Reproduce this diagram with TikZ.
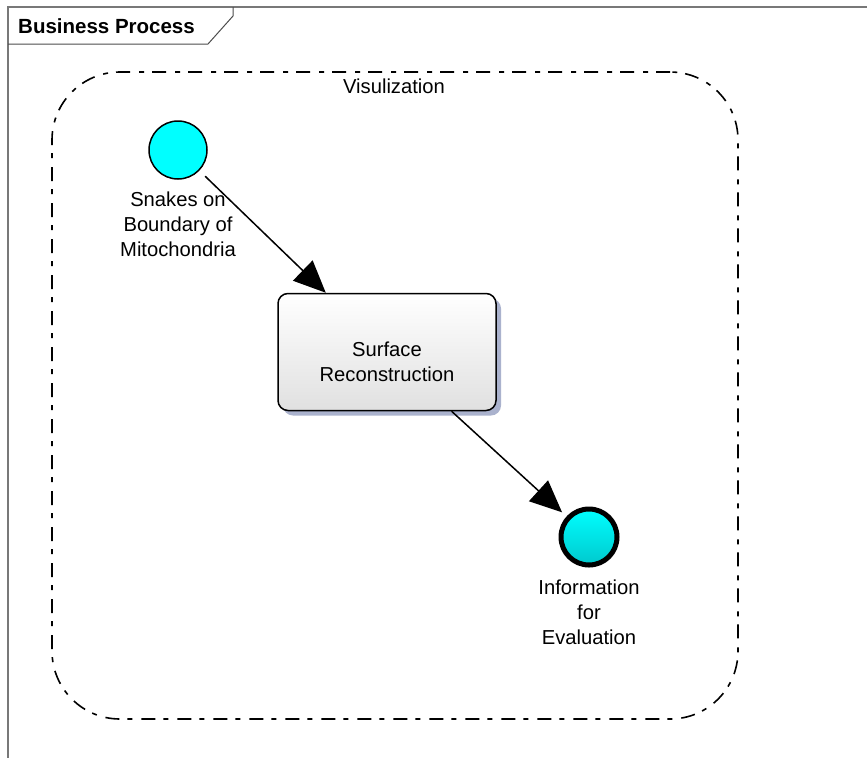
\documentclass[tikz,border=0pt]{standalone}
\usepackage{fontspec}
\setmainfont{Liberation Sans}
\usetikzlibrary{arrows.meta,shadows}
\definecolor{cyanA}{RGB}{0,255,255}
\definecolor{cyanB}{RGB}{0,200,205}
\definecolor{shadowc}{RGB}{170,178,205}
\definecolor{framec}{RGB}{120,120,120}
\tikzset{
  lbl/.style={font=\fontsize{20.2}{25}\selectfont, align=center, inner sep=0pt},
  hdrtxt/.style={font=\fontsize{20.5}{24}\selectfont\bfseries, inner sep=0pt},
  startev/.style={circle, draw=black, line width=1.5pt, fill=cyanA, minimum size=58pt, inner sep=0pt},
  endev/.style={circle, draw=black, line width=5pt, top color=cyanA, bottom color=cyanB, minimum size=56pt, inner sep=0pt},
  taskbox/.style={rectangle, rounded corners=10pt, draw=black, line width=1.5pt, top color=white, bottom color=black!12,
    minimum width=218pt, minimum height=117pt, inner sep=0pt,
    drop shadow={shadow xshift=5pt, shadow yshift=-5pt, fill=shadowc, opacity=1}},
  groupbox/.style={rectangle, rounded corners=68pt, draw=black, line width=1.6pt,
    dash pattern=on 14pt off 8pt on 5pt off 9pt, minimum width=686pt, minimum height=647pt, inner sep=0pt},
  flow/.style={draw=black, line width=1.5pt, -{Triangle[length=32pt,width=28pt]}},
}
\begin{document}
\begin{tikzpicture}[x=1pt,y=-1pt]
\useasboundingbox (0,0) rectangle (867,758);
% frame
\draw[framec, line width=1.5pt] (867,7) -- (8,7) -- (8,758);
\draw[black!70, line width=1pt] (8,44) -- (208,44) -- (233,16) -- (233,7);
\node[hdrtxt, anchor=west] (hdr) at (18,26) {Business Process};
% group
\node[groupbox] (vis) at (395,395.5) {};
\node[lbl] (vislbl) at (394,86) {Visulization};
% start event
\node[startev] (s) at (178,150) {};
\node[lbl] (slbl) at (178,224) {Snakes on\\Boundary of\\Mitochondria};
% task
\node[taskbox] (box) at (387,352) {};
\node[lbl] (boxlbl) at (387,362) {Surface\\Reconstruction};
% end event
\node[endev] (e) at (589,537) {};
\node[lbl] (elbl) at (589,612) {Information\\for\\Evaluation};
% flows
\draw[flow, shorten <=8pt] (s) -- (box);
\draw[flow, shorten >=6pt] (box) -- (e);
\end{tikzpicture}
\end{document}
